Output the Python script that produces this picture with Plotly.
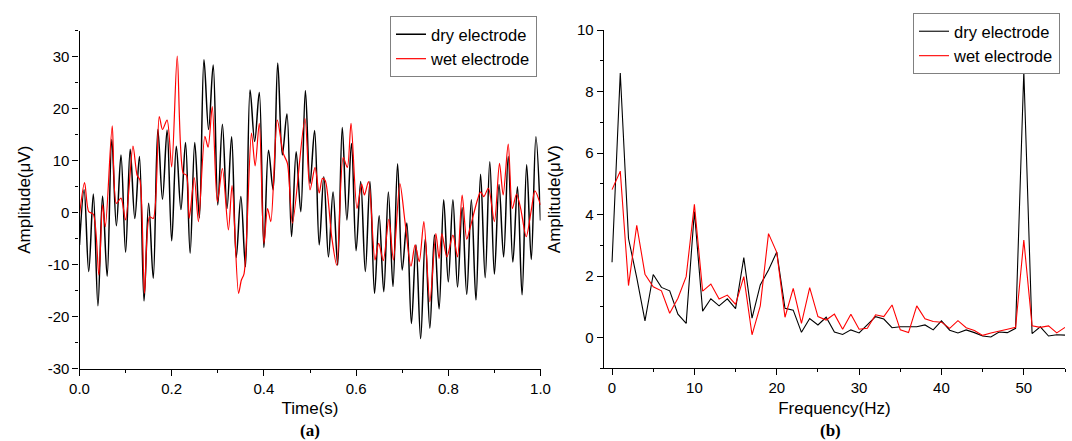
import plotly.graph_objects as go

# ---------------- (a) time domain ----------------
# dry electrode: extrema sampled every 10 ms (peaks / troughs of the 50 Hz ripple)
time_dry = [round(0.01 * i, 2) for i in range(101)]
amp_dry = [
    -6.2, 4.4, -11.3, 3.6, -17.9, 3.2, -12.2, 14.1, -2.5, 11.1,
    -7.6, 12.2, -1.1, 10.8, -17.0, 1.8, -12.6, 16.0, 2.6, 15.9,
    -5.4, 12.8, 0.6, 13.5, -7.8, 13.5, -1.0, 29.4, 16.0, 28.4,
    1.5, 17.0, 0.8, 14.6, -8.6, 3.1, -10.4, 23.6, 13.7, 23.1,
    -6.7, 12.0, 4.4, 28.8, 11.1, 19.0, -4.6, 11.7, 0.2, 23.5,
    5.6, 15.8, -6.2, 6.9, -8.5, 4.0, -10.1, 16.4, -1.4, 13.3,
    -7.3, 6.0, -11.3, 6.0, -15.5, -0.6, -15.2, 4.0, -14.2, 9.4,
    -11.0, -2.0, -21.3, -6.2, -24.2, -5.0, -22.2, -4.3, -18.5, 2.5,
    -13.3, 2.5, -14.3, 1.0, -15.7, 2.5, -16.8, 7.4, -12.5, 9.8,
    -11.8, 5.4, -8.5, 10.8, -9.5, 5.0, -15.8, 9.2, -9.0, 14.6,
    -1.5,
]

# wet electrode: turning points of the trace
time_wet = [
    0.000, 0.011, 0.020, 0.030, 0.042, 0.050, 0.056, 0.071, 0.080, 0.090,
    0.100, 0.116, 0.125, 0.131, 0.141, 0.152, 0.160, 0.173, 0.180, 0.190,
    0.200, 0.212, 0.225, 0.232, 0.238, 0.249, 0.258, 0.272, 0.279, 0.288,
    0.299, 0.310, 0.323, 0.331, 0.345, 0.351, 0.357, 0.373, 0.381, 0.390,
    0.400, 0.408, 0.415, 0.429, 0.442, 0.451, 0.462, 0.489, 0.500, 0.511,
    0.520, 0.527, 0.533, 0.547, 0.558, 0.572, 0.581, 0.589, 0.602, 0.612,
    0.618, 0.627, 0.641, 0.649, 0.659, 0.671, 0.681, 0.695, 0.706, 0.719,
    0.728, 0.737, 0.747, 0.760, 0.773, 0.780, 0.786, 0.797, 0.810, 0.820,
    0.830, 0.840, 0.847, 0.863, 0.870, 0.877, 0.887, 0.900, 0.911, 0.919,
    0.930, 0.939, 0.948, 0.957, 0.969, 0.980, 0.988, 1.000,
]
amp_wet = [
    -0.4, 5.8, 0.2, -0.3, -12.0, 1.5, -2.7, 16.7, 1.8, 2.8,
    -1.4, 12.8, 7.2, 6.3, -15.5, -0.8, -1.1, 18.5, 16.0, 17.8,
    8.8, 30.1, 7.6, 7.2, -1.1, 6.7, -1.7, 14.7, 12.6, 20.4,
    2.1, 8.5, -3.3, 5.2, -15.5, -13.0, -11.7, 15.3, 9.0, 17.2,
    -5.9, 0.8, -1.7, 17.8, 11.4, 9.5, -2.0, 18.1, 4.4, 8.7,
    3.8, 6.6, 6.2, -4.6, -10.1, 10.6, 8.7, 17.2, 0.8, 5.5,
    3.4, 6.0, -9.1, -5.9, -9.2, -1.3, -9.1, 5.6, -1.7, -10.3,
    -6.2, -9.4, -1.7, -17.1, -4.0, -8.8, -4.0, -8.5, -4.3, -8.5,
    3.4, -5.1, -3.0, 2.4, 4.0, 3.1, 4.7, -1.7, 9.5, 3.4,
    13.2, 0.8, 3.6, 0.8, -4.6, 0.5, 4.2, 1.5,
]

# ---------------- (b) frequency domain ----------------
freq_hz = list(range(56))
spec_dry = [
    2.45, 8.6, 3.22, 1.95, 0.54, 2.05, 1.63, 1.52, 0.76, 0.46,
    4.1, 0.86, 1.26, 1.03, 1.26, 0.94, 2.6, 0.63, 1.71, 2.2,
    2.78, 0.95, 0.89, 0.17, 0.62, 0.41, 0.66, 0.18, 0.10, 0.25,
    0.15, 0.40, 0.68, 0.60, 0.32, 0.35, 0.34, 0.35, 0.41, 0.25,
    0.54, 0.24, 0.15, 0.25, 0.16, 0.05, 0.02, 0.18, 0.16, 0.30,
    8.66, 0.13, 0.35, 0.05, 0.09, 0.08,
]
spec_wet = [
    4.81, 5.41, 1.69, 3.65, 2.06, 1.65, 1.52, 0.79, 1.28, 1.98,
    4.33, 1.51, 1.74, 1.25, 1.38, 1.08, 1.98, 0.09, 1.03, 3.38,
    2.77, 0.66, 1.60, 0.46, 1.62, 0.68, 0.57, 0.76, 0.27, 0.76,
    0.27, 0.30, 0.74, 0.68, 1.06, 0.25, 0.16, 1.03, 0.61, 0.52,
    0.50, 0.30, 0.55, 0.32, 0.23, 0.07, 0.15, 0.20, 0.27, 0.33,
    3.17, 0.38, 0.33, 0.38, 0.15, 0.33,
]

series_names = ["dry electrode", "wet electrode"]
DRY = "#000000"
WET = "#ff0000"
FONT = "Liberation Sans, Arial, sans-serif"

W, H = 1072, 441


def px_x(p):
    return p / W


def px_y(p):
    return 1 - p / H


fig = go.Figure()

fig.add_trace(go.Scatter(x=time_dry, y=amp_dry, mode="lines", name=series_names[0],
                         line=dict(color=DRY, width=1.5, shape="spline", smoothing=1.0),
                         xaxis="x", yaxis="y", legend="legend"))
fig.add_trace(go.Scatter(x=time_wet, y=amp_wet, mode="lines", name=series_names[1],
                         line=dict(color=WET, width=1.2, shape="spline", smoothing=0.8),
                         xaxis="x", yaxis="y", legend="legend"))
fig.add_trace(go.Scatter(x=freq_hz, y=spec_dry, mode="lines", name=series_names[0],
                         line=dict(color=DRY, width=1.1),
                         xaxis="x2", yaxis="y2", legend="legend2"))
fig.add_trace(go.Scatter(x=freq_hz, y=spec_wet, mode="lines", name=series_names[1],
                         line=dict(color=WET, width=1.1),
                         xaxis="x2", yaxis="y2", legend="legend2"))

axis_common = dict(
    showline=True, linecolor="#000000", linewidth=1.3, mirror=False,
    ticks="outside", ticklen=6, tickwidth=1.2, tickcolor="#000000",
    showgrid=False, zeroline=False, automargin=False,
    tickfont=dict(family=FONT, size=15, color="#000000"),
    title_font=dict(family=FONT, size=17, color="#000000"),
)
minor_common = dict(ticks="outside", ticklen=3, tickwidth=1.1, tickcolor="#000000", showgrid=False)

amp_ticks_a = [-30, -20, -10, 0, 10, 20, 30]
time_ticks = [0.0, 0.2, 0.4, 0.6, 0.8, 1.0]
amp_ticks_b = [0, 2, 4, 6, 8, 10]
freq_ticks = [0, 10, 20, 30, 40, 50]

fig.update_layout(
    template="none",
    width=W, height=H,
    margin=dict(l=0, r=0, t=0, b=0),
    paper_bgcolor="white", plot_bgcolor="white",
    xaxis=dict(axis_common, domain=[px_x(79.5), px_x(540.5)], range=[0, 1], anchor="y",
               tickvals=time_ticks, ticktext=[f"{v:.1f}" for v in time_ticks],
               minor=dict(minor_common, dtick=0.1),
               title=dict(text="Time(s)", standoff=6)),
    yaxis=dict(axis_common, domain=[px_y(368.7), px_y(30.7)], range=[-30, 35], anchor="x",
               tickvals=amp_ticks_a, ticktext=[str(v) for v in amp_ticks_a],
               minor=dict(minor_common, tick0=-30, dtick=5),
               title=dict(text="Amplitude(μV)", standoff=12)),
    xaxis2=dict(axis_common, domain=[px_x(603.8), px_x(1065)], range=[-1, 55], anchor="y2",
                tickvals=freq_ticks, ticktext=[str(v) for v in freq_ticks],
                minor=dict(minor_common, tick0=0, dtick=5),
                title=dict(text="Frequency(Hz)", standoff=6)),
    yaxis2=dict(axis_common, domain=[px_y(368.3), px_y(30)], range=[-1, 10], anchor="x2",
                tickvals=amp_ticks_b, ticktext=[str(v) for v in amp_ticks_b],
                minor=dict(minor_common, tick0=0, dtick=1),
                title=dict(text="Amplitude(μV)", standoff=12)),
    legend=dict(x=px_x(390), y=px_y(16), xanchor="left", yanchor="top",
                bordercolor="#808080", borderwidth=1, bgcolor="white",
                font=dict(family=FONT, size=16.5, color="#000000"),
                tracegroupgap=0, itemwidth=30),
    legend2=dict(x=px_x(913), y=px_y(13), xanchor="left", yanchor="top",
                 bordercolor="#808080", borderwidth=1, bgcolor="white",
                 font=dict(family=FONT, size=16.5, color="#000000"),
                 tracegroupgap=0, itemwidth=30),
    showlegend=True,
)

for label, xc in (("(a)", 310), ("(b)", 830)):
    fig.add_annotation(text=f"<b>{label}</b>", x=px_x(xc), y=px_y(430), xref="paper", yref="paper",
                       xanchor="center", yanchor="middle", showarrow=False,
                       font=dict(family="Liberation Serif, Times New Roman, serif", size=17, color="#000000"))

fig.write_html("out.html")
